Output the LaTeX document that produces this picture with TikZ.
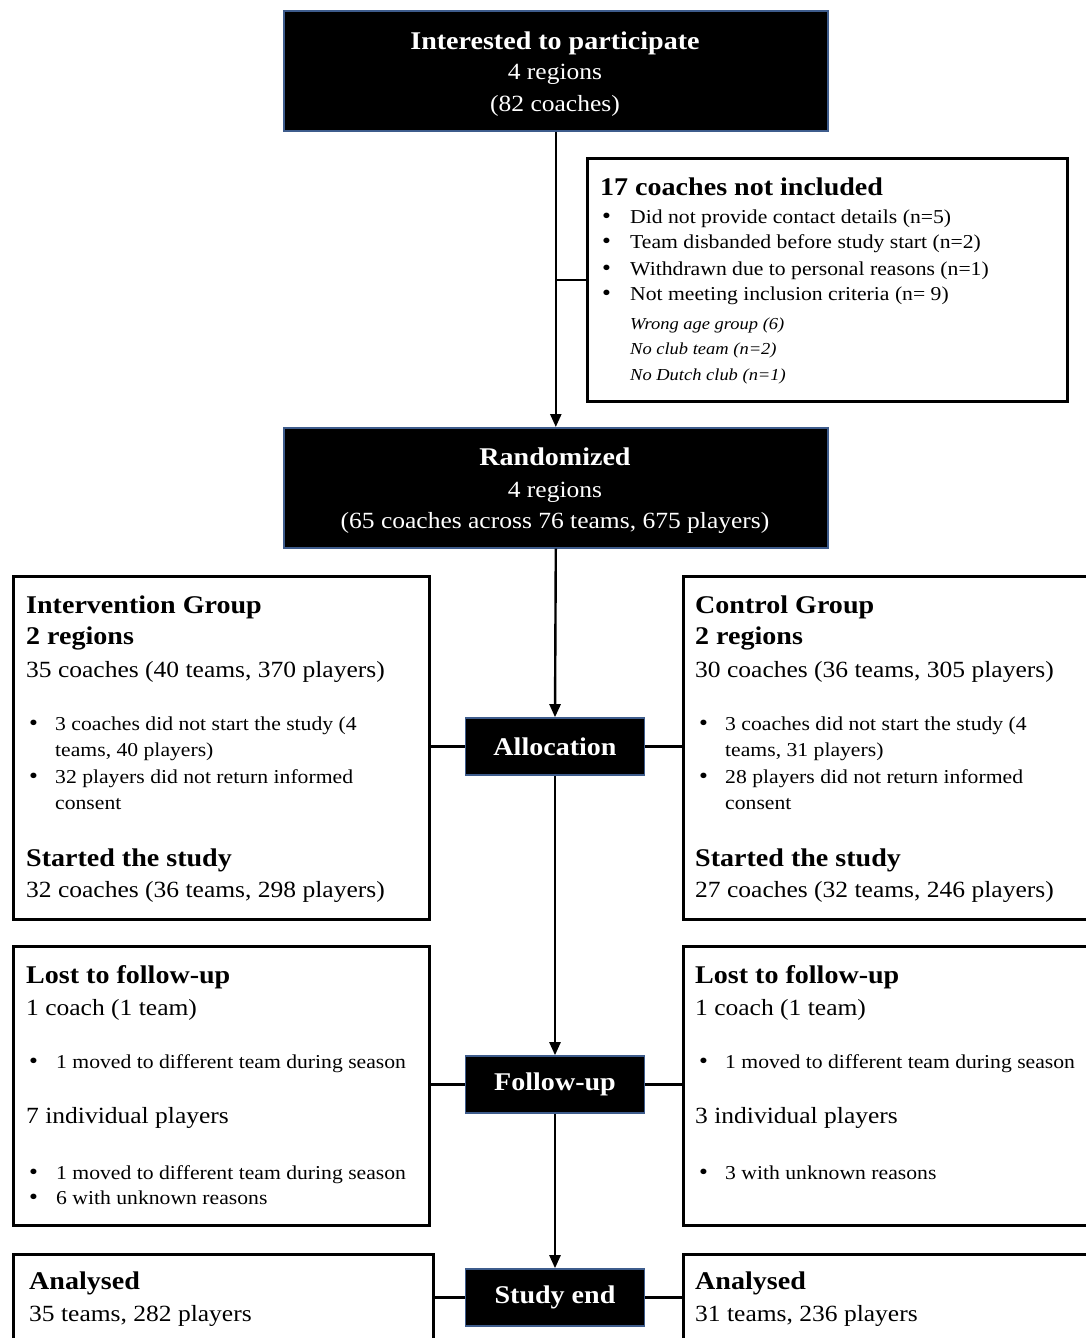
\documentclass[tikz,border=0pt]{standalone}
\usepackage{fontspec}
\setmainfont{Liberation Serif}[FakeStretch=1.1]
\usetikzlibrary{arrows.meta}
\definecolor{edgeblue}{RGB}{62,92,140}
\newcommand\fhead{\fontsize{25.5}{28}\selectfont\bfseries}
\newcommand\fmain{\fontsize{23.2}{26}\selectfont}
\newcommand\fsmall{\fontsize{19.7}{22}\selectfont}
\newcommand\fital{\fontsize{16.8}{19}\selectfont\itshape}
\newcommand\bul{\fontsize{23}{25}\selectfont\textbullet}
\tikzset{
  wbox/.style={draw=black, line width=2.6pt, fill=white, inner sep=0pt, anchor=north west},
  bbox/.style={draw=edgeblue, line width=1.6pt, fill=black, text=white, inner sep=0pt},
  conn/.style={line width=2.4pt, black},
  arr/.style={conn, -{Triangle[length=13pt,width=11pt]}},
  tx/.style={inner sep=0pt, anchor=base west},
  txc/.style={inner sep=0pt, anchor=base},
}
\begin{document}
\begin{tikzpicture}[x=1pt,y=-1pt]
\useasboundingbox (0,0) rectangle (1086,1338);
\clip (0,0) rectangle (1086,1338);
\fill[white] (0,0) rectangle (1086,1338);

% ---------- boxes ----------
\node[bbox, minimum width=544pt, minimum height=120pt, anchor=north west] (top) at (283,10) {};
\node[wbox, minimum width=480pt, minimum height=243pt] (excl) at (586,157) {};
\node[bbox, minimum width=544pt, minimum height=120pt, anchor=north west] (rand) at (283,427) {};
\node[wbox, minimum width=416pt, minimum height=343pt] (int) at (12,575) {};
\node[wbox, minimum width=430pt, minimum height=343pt] (ctl) at (682,575) {};
\node[bbox, minimum width=179pt, minimum height=57pt, font=\fhead] (alloc) at (555,746.5) {Allocation};
\node[wbox, minimum width=416pt, minimum height=279pt] (lostl) at (12,945) {};
\node[wbox, minimum width=430pt, minimum height=279pt] (lostr) at (682,945) {};
\node[bbox, minimum width=179pt, minimum height=57pt, font=\fhead] (fu) at (555,1084.5) {Follow-up};
\node[wbox, minimum width=420pt, minimum height=120pt] (anl) at (12,1253) {};
\node[wbox, minimum width=430pt, minimum height=120pt] (anr) at (682,1253) {};
\node[bbox, minimum width=179pt, minimum height=57pt, font=\fhead] (se) at (555,1297.5) {Study end};

% ---------- connectors ----------
\coordinate (j1) at (top.south |- excl.west);
\draw[conn] (j1) -- (excl.west);
\draw[arr] (top.south) -- (rand.north);
\draw[arr] (rand.south) -- (alloc.north);
\draw[arr] (alloc.south) -- (fu.north);
\draw[arr] (fu.south) -- (se.north);
\draw[conn] (alloc.west -| int.east) -- (alloc.west);
\draw[conn] (alloc.east) -- (alloc.east -| ctl.west);
\draw[conn] (fu.west -| lostl.east) -- (fu.west);
\draw[conn] (fu.east) -- (fu.east -| lostr.west);
\draw[conn] (se.west) -- (se.west -| anl.east);
\draw[conn] (se.east) -- (se.east -| anr.west);

% ---------- top box text ----------
\node[txc, text=white, font=\fhead] (t1) at (555,50) {Interested to participate};
\node[txc, text=white, font=\fmain] (t2) at (555,80) {4 regions};
\node[txc, text=white, font=\fmain] (t3) at (555,111) {(82 coaches)};

% ---------- exclusion text ----------
\node[tx, font=\fhead] (e0) at (600,195) {17 coaches not included};
\node[tx] (eb1) at (602,223) {\bul};
\node[tx, font=\fsmall] (e1) at (630,223) {Did not provide contact details (n=5)};
\node[tx] (eb2) at (602,248) {\bul};
\node[tx, font=\fsmall] (e2) at (630,248) {Team disbanded before study start (n=2)};
\node[tx] (eb3) at (602,275) {\bul};
\node[tx, font=\fsmall] (e3) at (630,275) {Withdrawn due to personal reasons (n=1)};
\node[tx] (eb4) at (602,300) {\bul};
\node[tx, font=\fsmall] (e4) at (630,300) {Not meeting inclusion criteria (n= 9)};
\node[tx, font=\fital] (e5) at (630,329) {Wrong age group (6)};
\node[tx, font=\fital] (e6) at (630,354) {No club team (n=2)};
\node[tx, font=\fital] (e7) at (630,380) {No Dutch club (n=1)};

% ---------- randomized text ----------
\node[txc, text=white, font=\fhead] (r1) at (555,465) {Randomized};
\node[txc, text=white, font=\fmain] (r2) at (555,497) {4 regions};
\node[txc, text=white, font=\fmain] (r3) at (555,528) {(65 coaches across 76 teams, 675 players)};

% ---------- intervention group ----------
\node[tx, font=\fhead] (i1) at (26,613) {Intervention Group};
\node[tx, font=\fhead] (i2) at (26,644) {2 regions};
\node[tx, font=\fmain] (i3) at (26,677) {35 coaches (40 teams, 370 players)};
\node[tx] (ib1) at (29,730) {\bul};
\node[tx, font=\fsmall] (i4) at (55,730) {3 coaches did not start the study (4};
\node[tx, font=\fsmall] (i5) at (55,756) {teams, 40 players)};
\node[tx] (ib2) at (29,783) {\bul};
\node[tx, font=\fsmall] (i6) at (55,783) {32 players did not return informed};
\node[tx, font=\fsmall] (i7) at (55,809) {consent};
\node[tx, font=\fhead] (i8) at (26,866) {Started the study};
\node[tx, font=\fmain] (i9) at (26,897) {32 coaches (36 teams, 298 players)};

% ---------- control group ----------
\node[tx, font=\fhead] (c1) at (695,613) {Control Group};
\node[tx, font=\fhead] (c2) at (695,644) {2 regions};
\node[tx, font=\fmain] (c3) at (695,677) {30 coaches (36 teams, 305 players)};
\node[tx] (cb1) at (699,730) {\bul};
\node[tx, font=\fsmall] (c4) at (725,730) {3 coaches did not start the study (4};
\node[tx, font=\fsmall] (c5) at (725,756) {teams, 31 players)};
\node[tx] (cb2) at (699,783) {\bul};
\node[tx, font=\fsmall] (c6) at (725,783) {28 players did not return informed};
\node[tx, font=\fsmall] (c7) at (725,809) {consent};
\node[tx, font=\fhead] (c8) at (695,866) {Started the study};
\node[tx, font=\fmain] (c9) at (695,897) {27 coaches (32 teams, 246 players)};

% ---------- lost to follow-up, left ----------
\node[tx, font=\fhead] (l1) at (26,983) {Lost to follow-up};
\node[tx, font=\fmain] (l2) at (26,1015) {1 coach (1 team)};
\node[tx] (lb1) at (29,1068) {\bul};
\node[tx, font=\fsmall] (l3) at (56,1068) {1 moved to different team during season};
\node[tx, font=\fmain] (l4) at (26,1123) {7 individual players};
\node[tx] (lb2) at (29,1179) {\bul};
\node[tx, font=\fsmall] (l5) at (56,1179) {1 moved to different team during season};
\node[tx] (lb3) at (29,1204) {\bul};
\node[tx, font=\fsmall] (l6) at (56,1204) {6 with unknown reasons};

% ---------- lost to follow-up, right ----------
\node[tx, font=\fhead] (m1) at (695,983) {Lost to follow-up};
\node[tx, font=\fmain] (m2) at (695,1015) {1 coach (1 team)};
\node[tx] (mb1) at (699,1068) {\bul};
\node[tx, font=\fsmall] (m3) at (725,1068) {1 moved to different team during season};
\node[tx, font=\fmain] (m4) at (695,1123) {3 individual players};
\node[tx] (mb2) at (699,1179) {\bul};
\node[tx, font=\fsmall] (m5) at (725,1179) {3 with unknown reasons};

% ---------- analysed ----------
\node[tx, font=\fhead] (a1) at (29,1289) {Analysed};
\node[tx, font=\fmain] (a2) at (29,1321) {35 teams, 282 players};
\node[tx, font=\fhead] (b1) at (695,1289) {Analysed};
\node[tx, font=\fmain] (b2) at (695,1321) {31 teams, 236 players};
\end{tikzpicture}
\end{document}
